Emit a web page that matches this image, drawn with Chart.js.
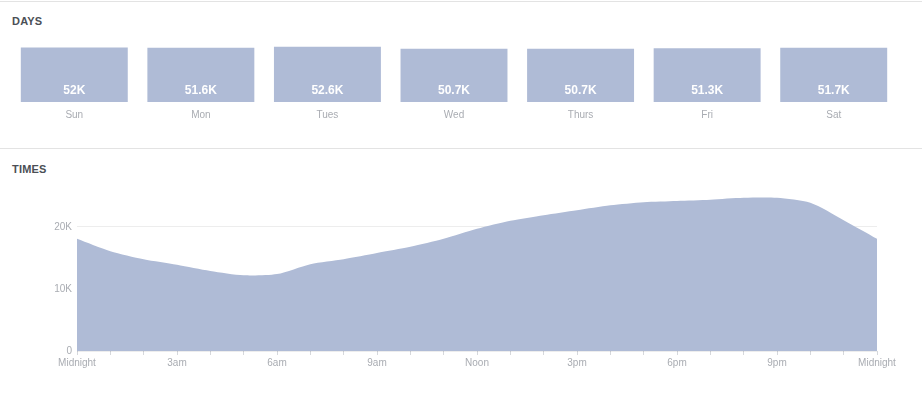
<!DOCTYPE html>
<html>
<head>
<meta charset="utf-8">
<script src="https://cdn.jsdelivr.net/npm/chart.js@4.4.1/dist/chart.umd.min.js"></script>
<style>
  body { margin: 0; background: #fff; font-family: "Liberation Sans", Arial, sans-serif; }
  #wrap { position: relative; width: 922px; height: 396px; overflow: hidden; }
  .rule { position: absolute; left: 0; width: 922px; height: 1px; background: #e3e3e3; }
  .title { position: absolute; left: 12px; font-size: 11px; font-weight: bold; color: #4b4f56; letter-spacing: 0.2px; }
  #daysBox { position: absolute; left: 0; top: 30px; width: 922px; height: 100px; }
  #timesBox { position: absolute; left: 0; top: 180px; width: 922px; height: 193px; }
</style>
</head>
<body>
<div id="wrap">
  <div class="rule" style="top:1px"></div>
  <div class="title" style="top:15px">DAYS</div>
  <div id="daysBox"><canvas id="daysChart"></canvas></div>
  <div class="rule" style="top:148px"></div>
  <div class="title" style="top:163px">TIMES</div>
  <div id="timesBox"><canvas id="timesChart"></canvas></div>
</div>
<script>
// days of the week
var dayLabels = ["Sun", "Mon", "Tues", "Wed", "Thurs", "Fri", "Sat"];
var dayValues = [52000, 51600, 52600, 50700, 50700, 51300, 51700];

// hourly, midnight to midnight
var hourLabels = ["Midnight", "", "", "3am", "", "", "6am", "", "", "9am", "", "", "Noon",
                  "", "", "3pm", "", "", "6pm", "", "", "9pm", "", "", "Midnight"];
var hourValues = [18100, 16100, 14800, 13900, 12900, 12200, 12400, 14000, 14800, 15800, 16800, 18100, 19700,
                  21000, 21900, 22700, 23500, 24000, 24200, 24400, 24700, 24700, 23900, 21100, 18100];
var hourTicks = [0, 10000, 20000];

var fillColor = "#afbbd6";
var greyText = "#a9acb2";

function fmtK(v) {
  return (Math.round(v / 100) / 10) + "K";
}

// white value text near the bottom of each bar
var barValuePlugin = {
  id: "barValues",
  afterDatasetsDraw: function(chart) {
    var ctx = chart.ctx;
    var meta = chart.getDatasetMeta(0);
    ctx.save();
    ctx.fillStyle = "#fff";
    ctx.font = "bold 12px 'Liberation Sans', Arial, sans-serif";
    ctx.textAlign = "center";
    ctx.textBaseline = "middle";
    meta.data.forEach(function(bar, i) {
      ctx.fillText(fmtK(dayValues[i]), bar.x, bar.base - 11);
    });
    ctx.restore();
  }
};

new Chart(document.getElementById("daysChart").getContext("2d"), {
  type: "bar",
  data: {
    labels: dayLabels,
    datasets: [{
      data: dayValues,
      backgroundColor: fillColor,
      borderWidth: 0,
      categoryPercentage: 1,
      barPercentage: 0.845
    }]
  },
  options: {
    animation: false,
    responsive: true,
    maintainAspectRatio: false,
    layout: { padding: { left: 11, right: 25, top: 9, bottom: 2 } },
    plugins: { legend: { display: false }, tooltip: { enabled: false } },
    scales: {
      x: {
        grid: { display: false, drawTicks: false },
        border: { display: false },
        ticks: { color: greyText, font: { size: 10, family: "'Liberation Sans', Arial" }, padding: 7 }
      },
      y: { display: false, min: 0, max: 60000 }
    }
  },
  plugins: [barValuePlugin]
});

new Chart(document.getElementById("timesChart").getContext("2d"), {
  type: "line",
  data: {
    labels: hourLabels,
    datasets: [{
      data: hourValues,
      fill: "origin",
      backgroundColor: fillColor,
      borderColor: fillColor,
      borderWidth: 0,
      pointRadius: 0,
      tension: 0.25
    }]
  },
  options: {
    animation: false,
    responsive: true,
    maintainAspectRatio: false,
    layout: { padding: { left: 0, right: 45, top: 16, bottom: 2 } },
    plugins: { legend: { display: false }, tooltip: { enabled: false } },
    scales: {
      x: {
        grid: { drawOnChartArea: false, drawTicks: true, tickLength: 4, color: "#d6d8dc" },
        border: { display: false },
        ticks: { color: greyText, font: { size: 10, family: "'Liberation Sans', Arial" },
                 padding: 2, autoSkip: false, maxRotation: 0 }
      },
      y: {
        min: 0,
        max: 25000,
        z: 1,
        afterFit: function(scale) { scale.width = 77; },
        afterBuildTicks: function(scale) {
          scale.ticks = hourTicks.map(function(v) { return { value: v }; });
        },
        grid: { color: "rgba(0,0,0,0.07)", drawTicks: false },
        border: { display: false },
        ticks: {
          padding: 5,
          color: greyText,
          font: { size: 10, family: "'Liberation Sans', Arial" },
          callback: function(v) { return v === 0 ? "0" : (v / 1000) + "K"; }
        }
      }
    }
  }
});
</script>
</body>
</html>
